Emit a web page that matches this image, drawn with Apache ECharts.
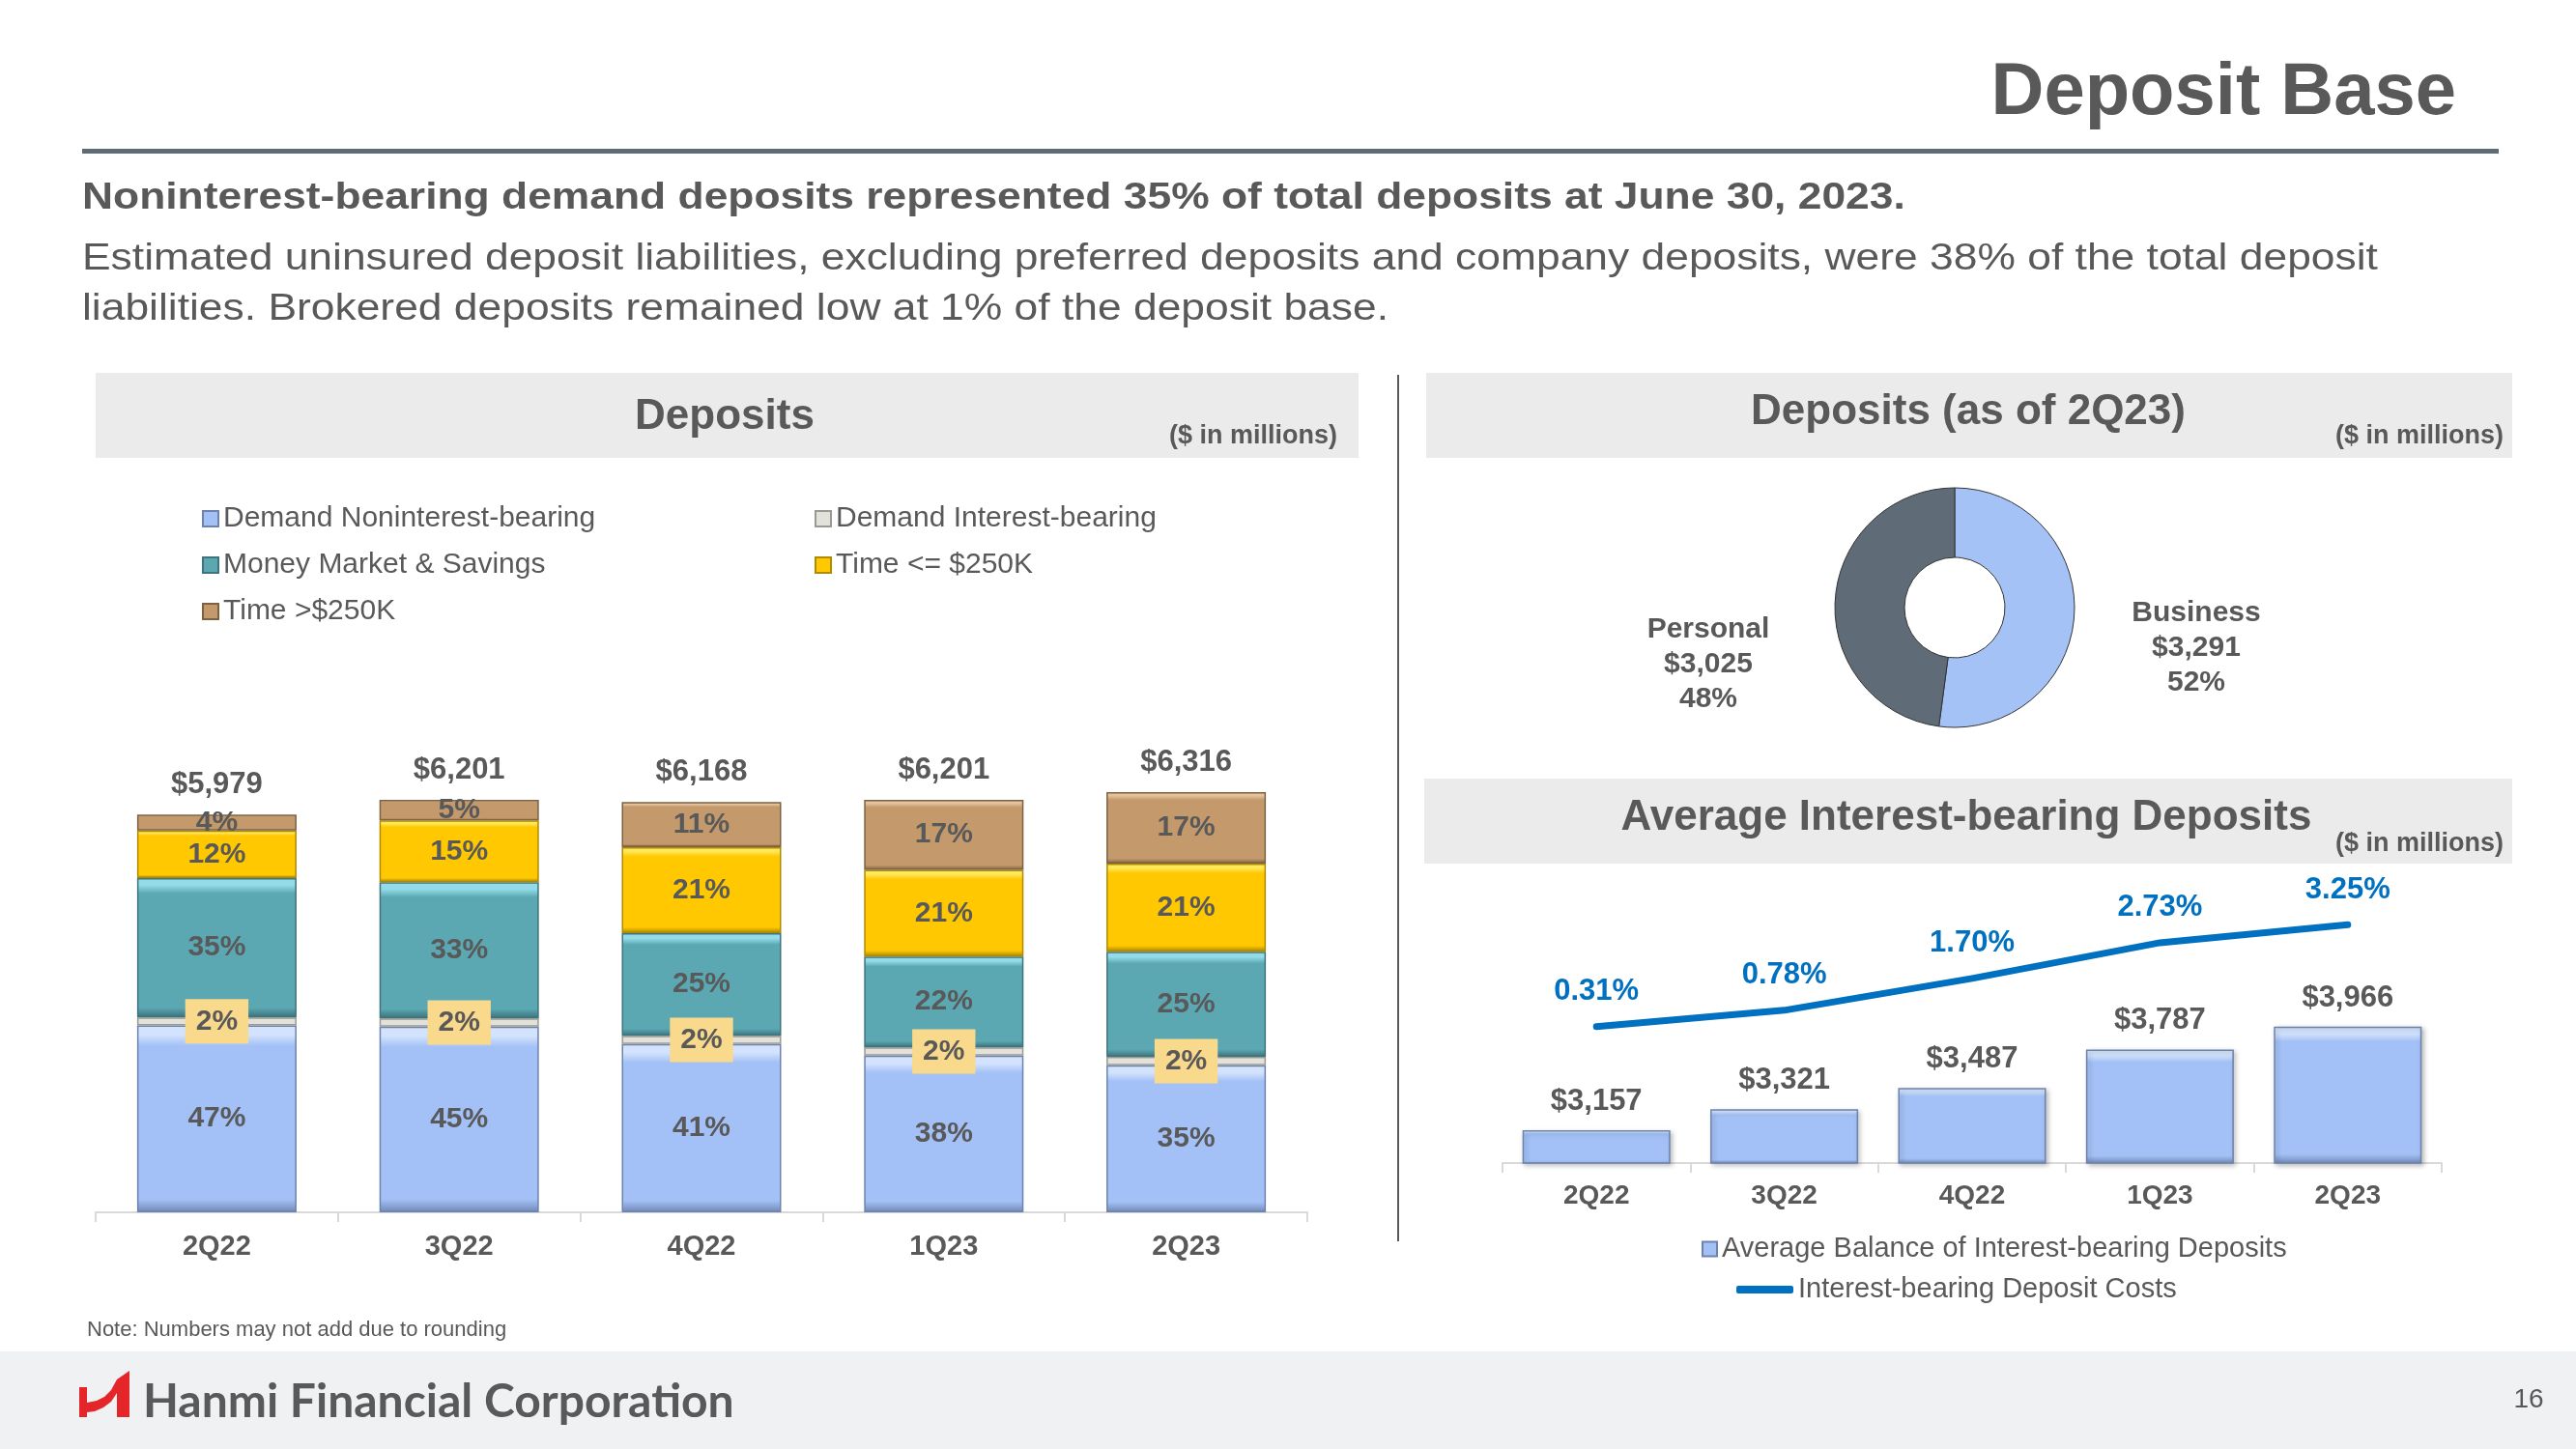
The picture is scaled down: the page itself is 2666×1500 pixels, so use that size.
<!DOCTYPE html>
<html><head><meta charset="utf-8">
<script src="https://cdn.jsdelivr.net/npm/echarts@6/dist/echarts.min.js"></script>
<style>html,body{margin:0;padding:0;background:#fff}#c{width:2666px;height:1500px}</style>
</head><body><div id="c"></div>
<script>
// ---------- data ----------
const quarters = ['2Q22', '3Q22', '4Q22', '1Q23', '2Q23'];
const totalDeposits = [5979, 6201, 6168, 6201, 6316];
const pctNonIntDemand = [47, 45, 41, 38, 35];
const pctIntDemand = [2, 2, 2, 2, 2];
const pctMoneyMarket = [35, 33, 25, 22, 25];
const pctTimeUnder = [12, 15, 21, 21, 21];
const pctTimeOver = [4, 5, 11, 17, 17];
const depositSeriesNames = ['Demand Noninterest-bearing', 'Demand Interest-bearing', 'Money Market & Savings', 'Time <= $250K', 'Time >$250K'];
const donutNames = ['Business', 'Personal'];
const donutValues = [3291, 3025];
const donutPct = [52, 48];
const avgBalance = [3157, 3321, 3487, 3787, 3966];
const depositCost = [0.31, 0.78, 1.70, 2.73, 3.25];
const avgBalanceName = 'Average Balance of Interest-bearing Deposits';
const depositCostName = 'Interest-bearing Deposit Costs';

// ---------- styling ----------
const FONT = '"Liberation Sans", Arial, Helvetica, sans-serif';
const GRAY = '#595959';
const chart = echarts.init(document.getElementById('c'), null, {renderer: 'canvas'});

function bevel(light, base, dark) {
  return {type: 'linear', x: 0, y: 0, x2: 0, y2: 1, colorStops: [
    {offset: 0, color: light}, {offset: 0.05, color: light}, {offset: 0.11, color: base},
    {offset: 0.93, color: base}, {offset: 1, color: dark}
  ]};
}
const fmtMoney = v => '$' + Math.round(v).toLocaleString('en-US');
const segColors = [
  bevel('#d3e3fd', '#a3c1f6', '#6f86b3'),
  bevel('#f4f4ee', '#e2e2da', '#8f8f88'),
  bevel('#93dbe8', '#5ba8b3', '#3b7079'),
  bevel('#ffe85a', '#ffc800', '#a88400'),
  bevel('#e3c29c', '#c49a6c', '#7c6143')
];
const segBorders = ['#6d83ad', '#9a9a94', '#3e747d', '#b08a00', '#7c6143'];
const pctArrays = [pctNonIntDemand, pctIntDemand, pctMoneyMarket, pctTimeUnder, pctTimeOver];

const segLabel = {
  show: true, position: 'inside', color: GRAY, fontSize: 30, fontWeight: 'bold', fontFamily: FONT
};

const depositSeries = depositSeriesNames.map((name, k) => ({
  name: name, type: 'bar', stack: 'dep', xAxisIndex: 0, yAxisIndex: 0, barWidth: 165,
  data: totalDeposits.map((t, i) => t * pctArrays[k][i] / 100),
  itemStyle: {color: segColors[k], borderColor: segBorders[k], borderWidth: 1.5},
  label: Object.assign({}, segLabel, {
    formatter: p => pctArrays[k][p.dataIndex] + '%'
  }, k === 1 ? {backgroundColor: '#f9d98c', padding: [9, 11, 7, 11]} : {})
}));

depositSeries.push({
  name: 'Total', type: 'bar', xAxisIndex: 0, yAxisIndex: 0, barWidth: 165, barGap: '-100%', z: 1,
  data: totalDeposits,
  itemStyle: {color: 'rgba(0,0,0,0)'},
  label: {show: true, position: 'top', distance: 15, color: GRAY, fontSize: 31, fontWeight: 'bold', fontFamily: FONT,
    formatter: p => fmtMoney(p.value)}
});

const labelPos = [{x: 2273, y: 671}, {x: 1768, y: 688}];

const series = depositSeries.concat([
  {
    name: 'Deposits (as of 2Q23)', type: 'pie', center: [2023, 629], radius: [52, 124],
    startAngle: 90, clockwise: true,
    data: donutNames.map((n, i) => ({name: n, value: donutValues[i]})),
    itemStyle: {borderColor: '#333', borderWidth: 1},
    label: {show: true, color: GRAY, fontSize: 30, fontWeight: 'bold', fontFamily: FONT, lineHeight: 36, align: 'center',
      formatter: p => p.name + '\n' + fmtMoney(p.value) + '\n' + donutPct[p.dataIndex] + '%'},
    labelLine: {show: false},
    labelLayout: p => ({x: labelPos[p.dataIndex].x, y: labelPos[p.dataIndex].y, align: 'center', verticalAlign: 'middle'}),
    color: ['#a4c2f5', '#5f6b77']
  },
  {
    name: avgBalanceName, type: 'bar', xAxisIndex: 1, yAxisIndex: 1, barWidth: 153,
    data: avgBalance,
    itemStyle: {color: bevel('#d3e3fd', '#a3c1f6', '#6f86b3'), borderColor: '#6d83ad', borderWidth: 1.5,
      shadowColor: 'rgba(0,0,0,0.25)', shadowBlur: 5, shadowOffsetX: 2, shadowOffsetY: 2},
    label: {show: true, position: 'top', distance: 14, color: GRAY, fontSize: 31, fontWeight: 'bold', fontFamily: FONT,
      formatter: p => fmtMoney(p.value)}
  },
  {
    name: depositCostName, type: 'line', xAxisIndex: 1, yAxisIndex: 2,
    data: depositCost, symbol: 'circle', symbolSize: 1, showSymbol: true,
    lineStyle: {color: '#0070c0', width: 7, cap: 'round', join: 'round'},
    itemStyle: {color: '#0070c0'},
    label: {show: true, position: 'top', distance: 20, color: '#0070c0', fontSize: 31, fontWeight: 'bold', fontFamily: FONT,
      formatter: p => p.value.toFixed(2) + '%'}
  }
]);

// ---------- page graphics ----------
function txt(text, x, y, size, weight, align, color, sx) {
  return {type: 'text', x: x, y: y, z: 10, scaleX: sx || 1, style: {text: text, fontSize: size, fontWeight: weight || 'normal', fontFamily: FONT,
    fill: color || GRAY, align: align || 'left', verticalAlign: 'middle'}};
}
const graphics = [
  {type: 'rect', shape: {x: 85, y: 154, width: 2501, height: 5}, style: {fill: '#5f6b77'}},
  txt('Deposit Base', 2542, 97, 76, 'bold', 'right'),
  txt('Noninterest-bearing demand deposits represented 35% of total deposits at June 30, 2023.', 85, 206, 38, 'bold', 'left', GRAY, 1.168),
  txt('Estimated uninsured deposit liabilities, excluding preferred deposits and company deposits, were 38% of the total deposit', 85, 269, 38, 'normal', 'left', GRAY, 1.168),
  txt('liabilities. Brokered deposits remained low at 1% of the deposit base.', 85, 321, 38, 'normal', 'left', GRAY, 1.168),
  {type: 'rect', z: 0, shape: {x: 99, y: 386, width: 1307, height: 88}, style: {fill: '#ebebeb'}},
  txt('Deposits', 750, 432, 44, 'bold', 'center'),
  txt('($ in millions)', 1384, 452, 27, 'bold', 'right'),
  {type: 'rect', shape: {x: 1446, y: 388, width: 2, height: 897}, style: {fill: '#595959'}},
  {type: 'rect', z: 0, shape: {x: 1476, y: 386, width: 1124, height: 88}, style: {fill: '#ebebeb'}},
  txt('Deposits (as of 2Q23)', 2037, 427, 44, 'bold', 'center'),
  txt('($ in millions)', 2591, 452, 27, 'bold', 'right'),
  {type: 'rect', z: 0, shape: {x: 1474, y: 806, width: 1126, height: 88}, style: {fill: '#ebebeb'}},
  txt('Average Interest-bearing Deposits', 2035, 847, 44, 'bold', 'center'),
  txt('($ in millions)', 2591, 874, 27, 'bold', 'right'),
  txt('Note: Numbers may not add due to rounding', 90, 1377, 22),
  {type: 'rect', z: 0, shape: {x: 0, y: 1399, width: 2666, height: 101}, style: {fill: '#f0f1f3'}},
  {type: 'polygon', z: 10, shape: {points: [[82, 1436], [90, 1436], [90, 1467], [82, 1467]]}, style: {fill: '#e4262a'}},
  {type: 'polygon', z: 10, shape: {points: [[121, 1428], [134, 1419], [134, 1467], [121, 1467]]}, style: {fill: '#e4262a'}},
  {type: 'polygon', z: 10, shape: {points: [[90, 1452], [100, 1450], [108, 1446], [115, 1439], [121, 1428], [121, 1442], [115, 1451], [107, 1457], [98, 1461], [90, 1462]]}, style: {fill: '#e4262a'}},
  {type: 'text', x: 148, y: 1452, z: 10, style: {text: 'Hanmi Financial Corporation', fontSize: 48, fontWeight: 'bold', fontFamily: 'Lato, "Noto Sans", sans-serif',
    fill: '#58595b', align: 'left', verticalAlign: 'middle'}},
  txt('16', 2617, 1449, 28, 'normal', 'center')
];

const axisLabelStyle = {color: GRAY, fontWeight: 'bold', fontFamily: FONT};

const option = {
  animation: false,
  backgroundColor: '#ffffff',
  textStyle: {fontFamily: FONT},
  graphic: {elements: graphics},
  legend: [
    {left: 204, top: 517, orient: 'vertical', icon: 'rect', itemWidth: 16, itemHeight: 16, itemGap: 18, selectedMode: false,
      data: [depositSeriesNames[0], depositSeriesNames[2], depositSeriesNames[4]],
      textStyle: {fontSize: 30, lineHeight: 30, color: GRAY, fontFamily: FONT}},
    {left: 838, top: 517, orient: 'vertical', icon: 'rect', itemWidth: 16, itemHeight: 16, itemGap: 18, selectedMode: false,
      data: [depositSeriesNames[1], depositSeriesNames[3]],
      textStyle: {fontSize: 30, lineHeight: 30, color: GRAY, fontFamily: FONT}},
    {left: 1756, top: 1273, orient: 'vertical', icon: 'rect', itemWidth: 15, itemHeight: 15, selectedMode: false,
      data: [avgBalanceName], textStyle: {fontSize: 29, lineHeight: 30, color: GRAY, fontFamily: FONT}},
    {left: 1792, top: 1315, orient: 'vertical', itemWidth: 59, itemHeight: 8, selectedMode: false,
      data: [{name: depositCostName, icon: 'roundRect'}], textStyle: {fontSize: 29, lineHeight: 30, color: GRAY, fontFamily: FONT}}
  ],
  grid: [
    {left: 99, top: 704, width: 1254, height: 551},
    {left: 1555, top: 793, width: 972, height: 411}
  ],
  xAxis: [
    {type: 'category', gridIndex: 0, data: quarters,
      axisLine: {onZero: false, lineStyle: {color: '#d9d9d9', width: 2}},
      axisTick: {show: true, length: 10, lineStyle: {color: '#d9d9d9', width: 2}},
      axisLabel: Object.assign({fontSize: 29, margin: 21}, axisLabelStyle)},
    {type: 'category', gridIndex: 1, data: quarters,
      axisLine: {onZero: false, lineStyle: {color: '#d9d9d9', width: 2}},
      axisTick: {show: true, length: 10, lineStyle: {color: '#d9d9d9', width: 2}},
      axisLabel: Object.assign({fontSize: 28, margin: 20}, axisLabelStyle)}
  ],
  yAxis: [
    {type: 'value', gridIndex: 0, min: 0, max: 8000, show: false, splitLine: {show: false}},
    {type: 'value', gridIndex: 1, min: 2900, max: 6000, show: false, splitLine: {show: false}},
    {type: 'value', gridIndex: 1, min: -3.63, max: 7.83, show: false, splitLine: {show: false}}
  ],
  series: series
};
chart.setOption(option);
</script>
</body></html>
